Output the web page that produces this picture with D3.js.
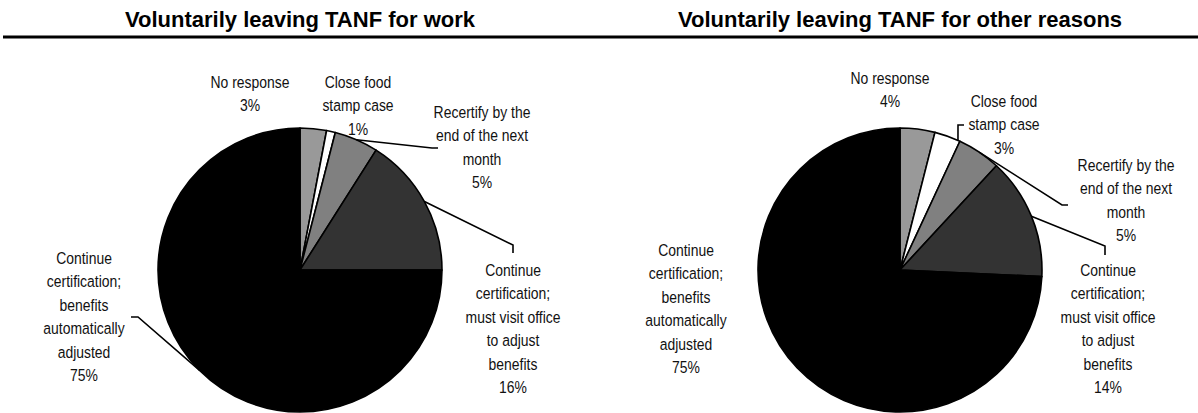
<!DOCTYPE html>
<html>
<head>
<meta charset="utf-8">
<script src="https://cdn.jsdelivr.net/npm/d3@7"></script>
<style>
  html, body { margin: 0; padding: 0; background: #fff; }
  svg { display: block; }
  .title { font-family: "Liberation Sans", Arial, sans-serif; font-weight: bold; font-size: 22px; fill: #000; }
  .lbl { font-family: "Liberation Sans", Arial, sans-serif; font-size: 17px; fill: #111; }
</style>
</head>
<body>
<svg id="chart" width="1198" height="413"></svg>
<script>
// Response categories, in drawing order (clockwise from 12 o'clock)
const categories = [
  "No response",
  "Close food stamp case",
  "Recertify by the end of the next month",
  "Continue certification; must visit office to adjust benefits",
  "Continue certification; benefits automatically adjusted"
];

// Label text broken into lines as printed
const labelLines = [
  ["No response"],
  ["Close food", "stamp case"],
  ["Recertify by the", "end of the next", "month"],
  ["Continue", "certification;", "must visit office", "to adjust", "benefits"],
  ["Continue", "certification;", "benefits", "automatically", "adjusted"]
];

// Percent of families, by reason for leaving TANF
const panelTitles = ["Voluntarily leaving TANF for work", "Voluntarily leaving TANF for other reasons"];
const workValues  = [3, 1, 5, 16, 75];
const otherValues = [4, 3, 5, 14, 75];

const sliceColors = ["#999999", "#ffffff", "#808080", "#333333", "#000000"];

// Label anchors (relative to pie centre), leader elbows, and where on the
// slice rim each leader starts (fraction of the slice's sweep)
const labelLayout = [
  [
    { x: -50, y: -188, leader: null },
    { x:  58, y: -188, leader: null },
    { x: 182, y: -158, at: 0.5, leader: [[132, -122], [138, -122]] },
    { x: 213, y:    0, at: 0.5, leader: [[213, -25], [213, -17]] },
    { x: -216, y: -12, at: 0.5, leader: [[-162, 47], [-169, 47]] }
  ],
  [
    { x: -10, y: -192, leader: null },
    { x: 104, y: -169, at: 0.92, leader: [[58, -145], [64, -145]] },
    { x: 226, y: -105, at: 0.5, leader: [[162, -65], [168, -65]] },
    { x: 208, y:    0, at: 0.5, leader: [[205, -24], [205, -15]] },
    { x: -214, y: -20, leader: null }
  ]
];

const W = 1198, H = 413;
const radius = 142;
const centers = [[300, 270], [900, 270]];
const lineH = 23.4;
const narrow = 0.82;   // horizontal squeeze for the condensed label face

const svg = d3.select("#chart");

// Heavy rule beneath the titles
svg.append("line")
  .attr("x1", 3).attr("x2", W)
  .attr("y1", 37).attr("y2", 37)
  .attr("stroke", "#000").attr("stroke-width", 3);

const pie = d3.pie().sort(null).value(d => d).startAngle(0).endAngle(2 * Math.PI);
const arc = d3.arc().innerRadius(0).outerRadius(radius);

function rimPoint(a, frac) {
  const ang = a.startAngle + (a.endAngle - a.startAngle) * frac;
  return [radius * Math.sin(ang), -radius * Math.cos(ang)];
}

[workValues, otherValues].forEach((values, p) => {
  const [cx, cy] = centers[p];

  svg.append("text")
    .attr("class", "title")
    .attr("x", cx).attr("y", 27)
    .attr("text-anchor", "middle")
    .text(panelTitles[p]);

  const g = svg.append("g").attr("transform", `translate(${cx},${cy})`);
  const arcs = pie(values);

  g.selectAll("path.slice")
    .data(arcs)
    .join("path")
    .attr("class", "slice")
    .attr("d", arc)
    .attr("fill", (d, i) => sliceColors[i])
    .attr("stroke", "#000")
    .attr("stroke-width", 1.6)
    .attr("stroke-linejoin", "round");

  // Leader lines from the slice rim to its label
  arcs.forEach((a, i) => {
    const lay = labelLayout[p][i];
    if (!lay.leader) return;
    const pts = [rimPoint(a, lay.at)].concat(lay.leader);
    g.append("path")
      .attr("d", d3.line()(pts))
      .attr("fill", "none")
      .attr("stroke", "#000")
      .attr("stroke-width", 1.6);
  });

  // Category labels with their percentages
  arcs.forEach((a, i) => {
    const lay = labelLayout[p][i];
    const lines = labelLines[i].concat([values[i] + "%"]);
    const t = g.append("g")
      .attr("transform", `translate(${lay.x},${lay.y}) scale(${narrow},1)`)
      .append("text")
      .attr("class", "lbl")
      .attr("text-anchor", "middle");
    lines.forEach((ln, k) => {
      t.append("tspan")
        .attr("x", 0)
        .attr("y", k * lineH)
        .attr("dy", "0.35em")
        .text(ln);
    });
  });
});
</script>
</body>
</html>
